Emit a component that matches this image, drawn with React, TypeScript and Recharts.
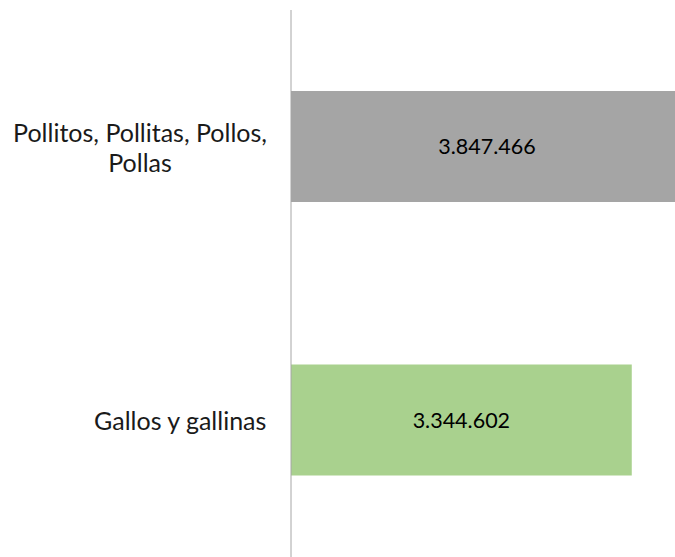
import { BarChart, Bar, XAxis, YAxis, Cell, LabelList } from 'recharts';

// poultry stock by category (Excel-style horizontal bars)
const categories = ['Pollitos, Pollitas, Pollos, Pollas', 'Gallos y gallinas'];
const values = [3847466, 3344602];
const barColors = ['#A5A5A5', '#A9D18E'];

const data = categories.map((name, i) => ({ name, value: values[i] }));

const FONT = 'Lato, "Open Sans", sans-serif';
const TICK_SIZE = 25;
const LABEL_SIZE = 21.5;

let ctx: CanvasRenderingContext2D | null = null;
function measure(text: string, size: number) {
    if (!ctx) ctx = document.createElement('canvas').getContext('2d');
    if (!ctx) return text.length * size * 0.5;
    ctx.font = `${size}px ${FONT}`;
    return ctx.measureText(text).width;
}

function wrap(text: string, maxW: number, size: number) {
    const words = text.split(' ');
    const lines: string[] = [];
    let cur = '';
    for (const w of words) {
        const next = cur ? cur + ' ' + w : w;
        if (cur && measure(next, size) > maxW) {
            lines.push(cur);
            cur = w;
        } else cur = next;
    }
    if (cur) lines.push(cur);
    return lines;
}

function CategoryTick({ x, y, payload }: any) {
    const lines = wrap(payload.value, 272, TICK_SIZE);
    const blockW = Math.max(...lines.map(l => measure(l, TICK_SIZE)));
    const right = x - 22;
    const cx = right - blockW / 2;
    const lh = 30;
    const top = y - ((lines.length - 1) * lh) / 2;
    return (
        <text x={cx} y={top} textAnchor="middle" dominantBaseline="central"
            fontFamily={FONT} fontSize={TICK_SIZE} fill="#1a1a1a">
            {lines.map((l, i) => (
                <tspan key={i} x={cx} y={top + i * lh}>{l}</tspan>
            ))}
        </text>
    );
}

const fmt = (v: any) => Number(v).toLocaleString('en-US').replace(/,/g, '.');

export default function App() {
    return (
        <div style={{ position: 'absolute', left: 0, top: 0, width: 675, height: 557, overflow: 'hidden', background: '#fff' }}>
            <BarChart
                width={700}
                height={557}
                data={data}
                layout="vertical"
                margin={{ top: 10, right: 17, bottom: 0, left: 0 }}
                barCategoryGap="30%"
            >
                <XAxis type="number" domain={[0, 'dataMax']} hide />
                <YAxis
                    type="category"
                    dataKey="name"
                    width={291}
                    tickLine={false}
                    tickSize={0}
                    axisLine={{ stroke: '#A6A6A6', strokeWidth: 1 }}
                    tick={<CategoryTick />}
                    interval={0}
                />
                <Bar dataKey="value" isAnimationActive={false} barSize={111}>
                    {data.map((d, i) => (
                        <Cell key={d.name} fill={barColors[i]} />
                    ))}
                    <LabelList dataKey="value" position="center" formatter={fmt}
                        style={{ fontFamily: FONT, fontSize: LABEL_SIZE, fill: '#000' }} />
                </Bar>
            </BarChart>
        </div>
    );
}
